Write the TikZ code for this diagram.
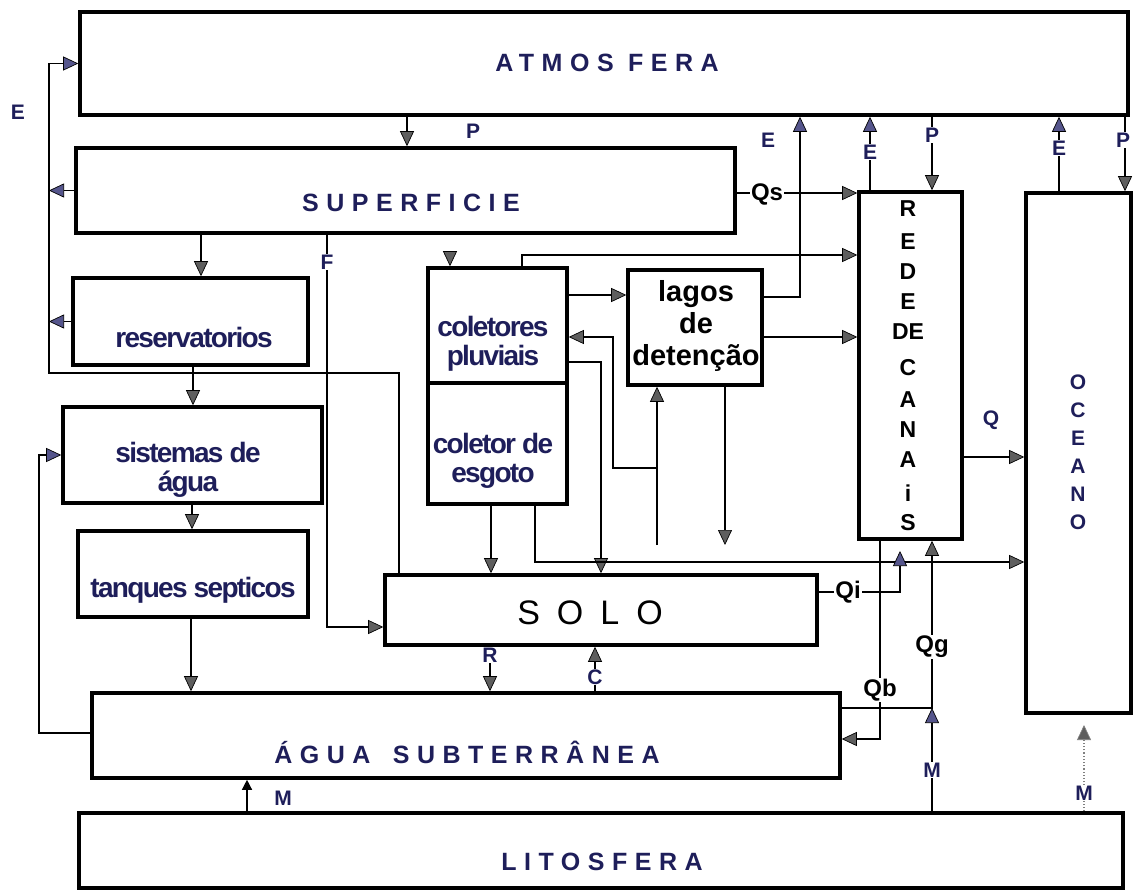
\documentclass[tikz,border=0pt]{standalone}
\usepackage{fontspec}
\setmainfont{Liberation Sans}
\newfontfamily\widefont[LetterSpace=30]{Liberation Sans}
\newfontfamily\tightfont[LetterSpace=-6]{Liberation Sans}
\newfontfamily\solofont[LetterSpace=50]{Liberation Sans}
\usetikzlibrary{arrows.meta}
\definecolor{navy}{HTML}{1E1E5A}
\definecolor{agrey}{HTML}{5E5E5E}
\definecolor{ablue}{HTML}{55558C}
\tikzset{
 box/.style={draw, line width=3.6pt, inner sep=0pt},
 conn/.style={line width=1.3pt},
 arr/.style={conn, -{Triangle[length=15pt,width=14pt,fill=agrey,line width=0.7pt]}},
 barr/.style={conn, -{Triangle[length=15pt,width=14pt,fill=ablue,line width=0.7pt]}},
 lab/.style={font=\bfseries\fontsize{21}{21}\selectfont, text=navy, inner sep=1pt},
 wlab/.style={lab, fill=white},
 qlab/.style={font=\bfseries\fontsize{24}{24}\selectfont, text=black, fill=white, inner sep=1pt},
 bigtxt/.style={font=\widefont\bfseries\fontsize{25}{25}\selectfont, text=navy},
 boxtxt/.style={font=\tightfont\bfseries\fontsize{28}{29}\selectfont, text=navy, align=center, inner sep=0pt},
 lagtxt/.style={font=\bfseries\fontsize{29}{32}\selectfont, text=black, align=center, inner sep=0pt},
 vletter/.style={font=\bfseries\fontsize{23}{23}\selectfont, inner sep=0pt},
}
\begin{document}
\begin{tikzpicture}[x=1pt,y=-1pt]
\useasboundingbox (0,0) rectangle (1135,893);
\fill[white] (0,0) rectangle (1135,893);

% boxes
\node[box, minimum width=1048pt, minimum height=103pt] (atm) at (604,63.5) {};
\node[box, minimum width=659pt, minimum height=85pt] (sup) at (405.5,190.5) {};
\node[box, minimum width=235pt, minimum height=87pt] (res) at (190.5,321.5) {};
\node[box, minimum width=259pt, minimum height=96pt] (sis) at (192.5,455) {};
\node[box, minimum width=230pt, minimum height=86pt] (tan) at (193,574) {};
\node[box, minimum width=748pt, minimum height=85pt] (agua) at (466,735.5) {};
\node[box, minimum width=1044pt, minimum height=75pt] (lit) at (601,850.5) {};
\node[box, minimum width=139pt, minimum height=115pt] (col) at (497.5,325.5) {};
\node[box, minimum width=139pt, minimum height=121pt] (esg) at (497.5,443.5) {};
\node[box, minimum width=134pt, minimum height=115pt] (lag) at (695,327.5) {};
\node[box, minimum width=432pt, minimum height=70pt] (solo) at (601,610) {};
\node[box, minimum width=103pt, minimum height=347pt] (rede) at (910.5,365.5) {};
\node[box, minimum width=105pt, minimum height=520pt] (oce) at (1078.5,453) {};

% box texts
\node[bigtxt] (tatm) at (607,63) {ATMOS FERA};
\node[bigtxt] (tsup) at (411,203) {SUPERFICIE};
\node[bigtxt] (tagua) at (467,752) {ÁGUA\hspace{8pt} SUBTERRÂNEA};
\node[bigtxt] (tlit) at (602,862) {LITOSFERA};
\node[font=\solofont\fontsize{34}{34}\selectfont] (tsolo) at (590,613) {SOLO};
\node[boxtxt] (tres) at (194,337) {reservatorios};
\node[boxtxt] (tsis) at (188,470) {sistemas de\\água};
\node[boxtxt] (ttan) at (193,590) {tanques septicos};
\node[boxtxt] (tcol) at (493,344) {coletores\\pluviais};
\node[boxtxt] (tesg) at (493,461) {coletor de\\esgoto};
\node[lagtxt] (tlag) at (696,326) {lagos\\de\\detenção};
\foreach \t/\y [count=\i] in {R/209,E/242,D/272,E/302,DE/332,C/368,A/400,N/430,A/460,i/493,S/523}
  \node[vletter] (rl\i) at (908,\y) {\t};
\foreach \t/\y [count=\i] in {O/382,C/410,E/438,A/466,N/494,O/522}
  \node[vletter, text=navy, font=\bfseries\fontsize{21}{21}\selectfont] (ol\i) at (1078,\y) {\t};

% connectors
\draw[barr] (399,0 |- solo.north) |- (49,373) |- (atm.west);
\draw[barr] (sup.west) -- (49,0 |- sup.west);
\draw[barr] (res.west) -- (49,0 |- res.west);
\draw[arr] (407,0 |- atm.south) -- (407,0 |- sup.north);
\draw[arr] (201,0 |- sup.south) -- (201,0 |- res.north);
\draw[arr] (327,0 |- sup.south) |- (solo.west |- 0,627);
\draw[arr] (193,0 |- res.south) -- (193,0 |- sis.north);
\draw[arr] (192,0 |- sis.south) -- (192,0 |- tan.north);
\draw[arr] (191,0 |- tan.south) -- (191,0 |- agua.north);
\draw[barr] (agua.west |- 0,733) -| (39,0 |- sis.west) -- (sis.west);
\coordinate (cin) at (450,252);
\draw[arr] (cin) -- (450,0 |- col.north);
\draw[arr] (522,0 |- col.north) |- (rede.west |- 0,255);
\draw[arr] (col.east |- 0,295) -- (lag.west |- 0,295);
\draw[barr] (lag.east |- 0,297) -| (800,0 |- atm.south);
\draw[arr] (lag.east |- 0,337) -- (rede.west |- 0,337);
\draw[arr] (sup.east |- 0,193) -- (rede.west |- 0,193);
\draw[barr] (870,0 |- rede.north) -- (870,0 |- atm.south);
\draw[arr] (932,0 |- atm.south) -- (932,0 |- rede.north);
\draw[barr] (1059,0 |- oce.north) -- (1059,0 |- atm.south);
\draw[arr] (1125,0 |- atm.south) -- (1125,0 |- oce.north);
\coordinate (lin) at (657,545);
\coordinate (lbr) at (657,468);
\draw[arr] (lin) -- (657,0 |- lag.south);
\draw[arr] (lbr) -| (613,337) -- (col.east |- 0,337);
\draw[arr] (col.east |- 0,362) -| (601,0 |- solo.north);
\coordinate (lout) at (725,545);
\draw[arr] (725,0 |- lag.south) -- (lout);
\draw[arr] (491,0 |- esg.south) -- (491,0 |- solo.north);
\draw[arr] (535,0 |- esg.south) |- (oce.west |- 0,562);
\draw[arr] (rede.east |- 0,457) -- (oce.west |- 0,457);
\coordinate (qiend) at (900,551);
\draw[barr] (solo.east |- 0,592) -| (qiend);
\draw[arr] (880,0 |- rede.south) |- (agua.east |- 0,739);
\draw[arr] (agua.east |- 0,708) -| (932,0 |- rede.south);
\coordinate (mj) at (932,708);
\draw[barr] (932,0 |- lit.north) -- (mj);
\draw[conn, -{Triangle[length=10pt,width=10pt]}] (247,0 |- lit.north) -- (247,0 |- agua.south);
\coordinate (mo) at (1084,725);
\draw[conn, line width=1.2pt, dotted, gray, -{Triangle[length=15pt,width=14pt,fill=agrey,line width=0.7pt]}] (1084,0 |- lit.north) -- (mo);
\draw[arr] (490,0 |- solo.south) -- (490,0 |- agua.north);
\draw[arr] (595,0 |- agua.north) -- (595,0 |- solo.south);

% labels
\node[lab] (lE1) at (18,112) {E};
\node[lab] (lP1) at (473,131) {P};
\node[wlab] (lF) at (327,262) {F};
\node[lab] (lE2) at (768,140) {E};
\node[wlab] (lE3) at (870,152) {E};
\node[wlab] (lP2) at (932,135) {P};
\node[wlab] (lE4) at (1059,148) {E};
\node[wlab] (lP3) at (1123,140) {P};
\node[qlab] (lQs) at (767,194) {Qs};
\node[lab] (lQ) at (991,420) {Q};
\node[qlab] (lQi) at (848,592) {Qi};
\node[qlab] (lQg) at (932,647) {Qg};
\node[qlab] (lQb) at (880,690) {Qb};
\node[wlab] (lM1) at (932,770) {M};
\node[lab] (lM2) at (283,798) {M};
\node[wlab] (lM3) at (1084,793) {M};
\node[wlab] (lR) at (490,655) {R};
\node[wlab] (lC) at (595,677) {C};
\end{tikzpicture}
\end{document}
